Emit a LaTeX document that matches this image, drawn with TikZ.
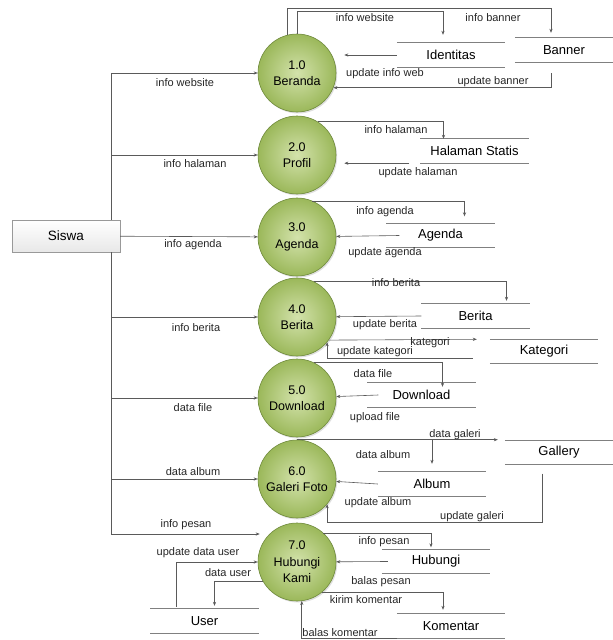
\documentclass[tikz,border=0pt]{standalone}
\usepackage{fontspec}
\setmainfont{Liberation Sans}
\usetikzlibrary{calc,shapes,positioning,shadows}
\usetikzlibrary{arrows.meta}
\tikzset{>={Stealth[length=4pt,width=3.2pt]}}
\definecolor{procin}{HTML}{D3E2AB}
\definecolor{procout}{HTML}{9BB85A}
\definecolor{procedge}{HTML}{6F8A3C}
\definecolor{flowgray}{HTML}{5A5A5A}
\definecolor{storegray}{HTML}{808080}
\definecolor{txtgray}{HTML}{262626}

\begin{document}
\begin{tikzpicture}[x=1pt,y=-1pt]
        \tikzstyle{process} = [circle, draw=procedge, line width=0.6pt, shading=radial, inner color=procin, outer color=procout,
        minimum size=78pt, inner sep=0pt, align=center, font=\fontsize{12.5}{16.5}\selectfont,
        drop shadow={opacity=0.25, shadow xshift=1.2pt, shadow yshift=-1.5pt}]
        \tikzstyle{entity} = [draw=gray!80, top color=white, bottom color=gray!18, minimum width=108pt, minimum height=32pt,
        font=\fontsize{13.5}{16}\selectfont, drop shadow={opacity=0.2, shadow xshift=1pt, shadow yshift=-1pt}]
        \tikzstyle{storeline} = [draw=storegray, line width=0.8pt]
        \tikzstyle{dstore} = [minimum width=108pt, minimum height=24pt, inner sep=0pt, font=\fontsize{13}{15}\selectfont,
        append after command={(\tikzlastnode.north west) edge[storeline] (\tikzlastnode.north east)
        (\tikzlastnode.south west) edge[storeline] (\tikzlastnode.south east)}]
        \tikzstyle{flow} = [draw=flowgray, line width=0.6pt]
        \tikzstyle{lbl} = [font=\fontsize{11}{12}\selectfont, text=txtgray, inner sep=0pt]

        \useasboundingbox (0,0) rectangle (613,640);

        \node[entity] (siswa) at (66,236) {Siswa};

        \node[process] (p1) at (297,73) {1.0\\Beranda};
        \node[process] (p2) at (297,155) {2.0\\Profil};
        \node[process] (p3) at (297,237) {3.0\\Agenda};
        \node[process] (p4) at (297,317) {4.0\\Berita};
        \node[process] (p5) at (297,398) {5.0\\Download};
        \node[process] (p6) at (297,479) {6.0\\Galeri Foto};
        \node[process] (p7) at (297,562) {7.0\\Hubungi\\Kami};

        \node[dstore] (identitas) at (451,55) {Identitas};
        \node[dstore, minimum width=98pt] (banner) at (564,50) {Banner};
        \node[dstore] (hstatis) at (474.5,151) {Halaman Statis};
        \node[dstore] (agenda) at (440.5,235.5) {Agenda};
        \node[dstore] (berita) at (475.5,316) {Berita};
        \node[dstore] (kategori) at (544,351.5) {Kategori};
        \node[dstore] (download) at (421.5,395) {Download};
        \node[dstore] (gallery) at (559,452.5) {Gallery};
        \node[dstore] (album) at (432,484) {Album};
        \node[dstore] (hubungi) at (436,561.5) {Hubungi};
        \node[dstore] (user) at (204.5,621) {User};
        \node[dstore] (komentar) at (451,626) {Komentar};

        % siswa ke proses
        \coordinate (bus) at (111,0);
        \coordinate (pesanin) at ($(p7.west)+(2,-28)$);
        \draw[flow] (bus |- p1) -- (bus |- siswa.north);
        \draw[flow] (bus |- siswa.south) -- (bus |- pesanin);
        \draw[flow,->] (bus |- p1) -- (p1) node[lbl] at (185,83) {info website};
        \draw[flow,->] (bus |- p2) -- (p2) node[lbl] at (195,164) {info halaman};
        \draw[flow,->] (siswa) -- (p3) node[lbl] at (193,245) {info agenda};
        \draw[flow,->] (bus |- p4) -- (p4) node[lbl] at (196,328) {info berita};
        \draw[flow,->] (bus |- p5) -- (p5) node[lbl] at (193,408) {data file};
        \draw[flow,->] (bus |- p6) -- (p6) node[lbl] at (193,472) {data album};
        \draw[flow,->] (bus |- pesanin) -- (pesanin) node[lbl] at (186,525) {info pesan};

        % 1.0 beranda
        \draw[flow,->] (p1.north) |- ([xshift=-8pt,yshift=32pt]identitas.north) -- ([xshift=-8pt,yshift=8pt]identitas.north);
        \draw[flow,->] (p1.105) |- ([xshift=-13pt,yshift=30pt]banner.north) -- ([xshift=-13pt,yshift=5pt]banner.north);
        \node[lbl] at (365,18) {info website};
        \node[lbl] at (493,18) {info banner};
        \draw[flow,->] (identitas.west) -- ($(p1.east |- identitas.west)+(8,0)$) node[lbl] at (385,74) {update info web};
        \draw[flow,->] ([xshift=-13pt,yshift=-11pt]banner.south) |- (p1.-22) node[lbl] at (493,82) {update banner};

        % 2.0 profil
        \draw[flow,->] (p2.58) -| ([xshift=-31pt]hstatis.north) node[lbl] at (396,130) {info halaman};
        \draw[flow,->] ([xshift=-11pt]hstatis.south west) -- ($(p2.east |- hstatis.south west)+(8,0)$) node[lbl] at (418,173) {update halaman};

        % 3.0 agenda
        \draw[flow,->] (p3.67) -| ([xshift=24pt,yshift=7pt]agenda.north) node[lbl] at (385,212) {info agenda};
        \draw[flow,->] ([xshift=13pt]agenda.west) -- (p3) node[lbl] at (385,253) {update agenda};

        % 4.0 berita
        \draw[flow,->] (p4.64) -| ([xshift=31pt,yshift=3pt]berita.north) node[lbl] at (396,283) {info berita};
        \draw[flow,->] (berita.west) -- (p4) node[lbl] at (385,325) {update berita};
        \draw[flow,->] (p4.-36) -- ([xshift=-13pt]kategori.north west) node[lbl] at (430,343) {kategori};
        \draw[flow,->] ([xshift=-17pt,yshift=-7pt]kategori.west) -| (p4.-40) node[lbl] at (375,352) {update kategori};

        % 5.0 download
        \draw[flow,->] (p5.64) -| ([xshift=21pt,yshift=-4pt]download.north) node[lbl] at (373,374) {data file};
        \draw[flow,->] ([xshift=11pt]download.west) -- (p5) node[lbl] at (375,418) {upload file};

        % 6.0 galeri foto
        \draw[flow,->] (p6.north) -- ($(p6.north -| gallery.west)+(-7,0)$) node[lbl] at (455,435) {data galeri};
        \draw[flow,->] (album.north |- p6.north) -- ([yshift=8pt]album.north) node[lbl] at (383,455) {data album};
        \draw[flow,->] (album.west) -- (p6) node[lbl] at (378,503) {update album};
        \draw[flow,->] ([xshift=-17pt,yshift=-9pt]gallery.south) |- ($(p6.-40)+(0,18)$) -- (p6.-40) node[lbl] at (472,517) {update galeri};

        % 7.0 hubungi kami
        \draw[flow,->] (p7.48) -| ([xshift=-5pt,yshift=2pt]hubungi.north) node[lbl] at (384,542) {info pesan};
        \draw[flow,->] ([xshift=6pt]hubungi.west) -- (p7) node[lbl] at (381,582) {balas pesan};
        \draw[flow,->] (p7.-50) -| ([xshift=-8pt,yshift=4pt]komentar.north) node[lbl] at (366,600) {kirim komentar};
        \draw[flow,->] (komentar.south west) -| (p7.-83) node[lbl] at (340,633) {balas komentar};
        \draw[flow,->] ([xshift=-28pt,yshift=2pt]user.north) |- (p7.west) node[lbl] at (198,553) {update data user};
        \draw[flow,->] (p7.209) -| ([xshift=10pt,yshift=3pt]user.north) node[lbl] at (228,573) {data user};
      \end{tikzpicture}
\end{document}
